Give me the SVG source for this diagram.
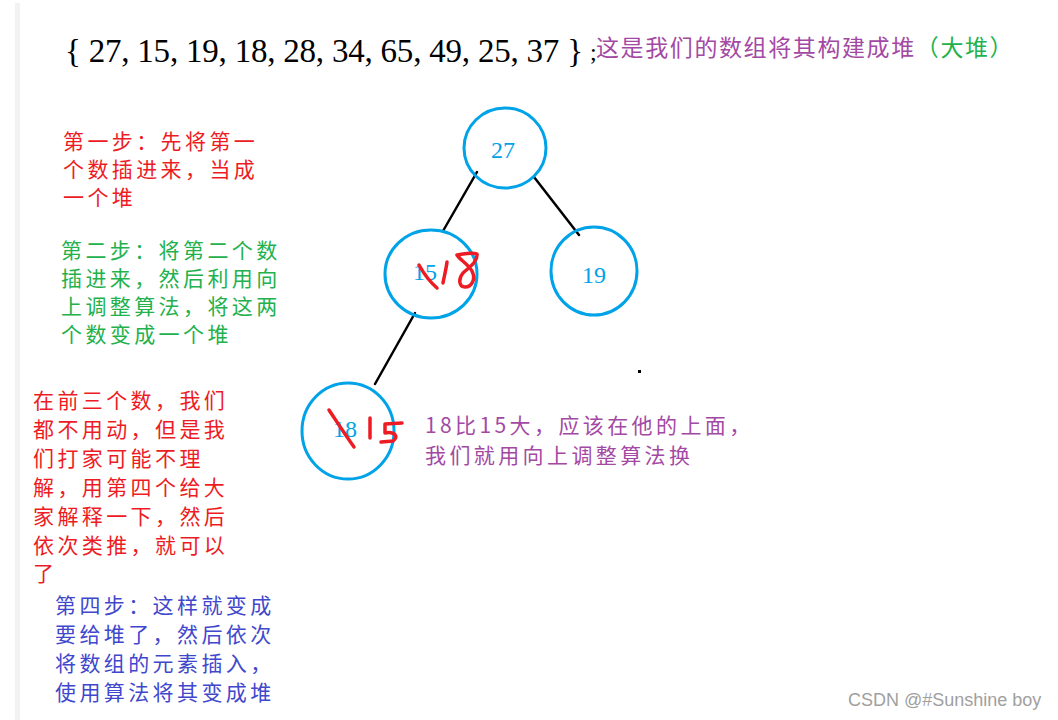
<svg xmlns="http://www.w3.org/2000/svg" width="1058" height="720" viewBox="0 0 1058 720">
<style>
.cn{font-family:"Noto Sans CJK SC","Noto Sans",sans-serif;font-size:21px;letter-spacing:3.4px}
.red{fill:#ed1c24}
.green{fill:#22b14c}
.blue{fill:#3f48cc}
.purple{fill:#a349a4}
.node ellipse{fill:none;stroke:#00a2e8;stroke-width:3}
.node text{font-family:"Liberation Serif",serif;font-size:24px;fill:#00a2e8;text-anchor:middle}
.edge{stroke:#000;stroke-width:2.5;stroke-linecap:round}
.ink{fill:none;stroke:#ed1c24;stroke-width:3.5;stroke-linecap:round;stroke-linejoin:round}
</style>
<rect width="1058" height="720" fill="#ffffff"/>
<rect x="15" y="3" width="5" height="717" fill="#f2f2f2"/>
<text x="65" y="62" font-family="Liberation Serif,serif" font-size="33" fill="#000" textLength="518" lengthAdjust="spacing">{ 27, 15, 19, 18, 28, 34, 65, 49, 25, 37 }</text>
<text x="590" y="60" font-family="Liberation Serif,serif" font-size="24" fill="#000">;</text>
<text x="596" y="56" class="cn purple" style="font-size:23px;letter-spacing:1.6px">这是我们的数组将其构建成堆<tspan class="green">（大堆）</tspan></text>

<g id="connectors">
<line class="edge" x1="477" y1="172" x2="443" y2="231"/>
<line class="edge" x1="534" y1="177" x2="579" y2="235"/>
<line class="edge" x1="415" y1="313" x2="375" y2="384"/>
</g>

<g id="node-27" class="node"><ellipse cx="505" cy="148" rx="41" ry="40"/><text x="503" y="158">27</text></g>
<g id="node-15" class="node"><ellipse cx="431" cy="274" rx="46" ry="44"/><text x="425" y="280">15</text></g>
<g id="node-19" class="node"><ellipse cx="594" cy="271" rx="43" ry="44"/><text x="594" y="283">19</text></g>
<g id="node-18" class="node"><ellipse cx="348" cy="431" rx="46" ry="48"/><text x="345" y="437">18</text></g>

<g id="handwriting">
<path class="ink" d="M419 265 C424 274 430 282 437 288"/>
<path class="ink" d="M447 262 C446 270 444 277 443 283"/>
<path class="ink" d="M457 255 C464 254 472 252 477 254 C478 262 468 268 463 273 C458 279 459 287 465 287 C472 287 476 279 472 271 C468 264 460 260 457 255 Z"/>
<path class="ink" d="M329 410 C337 422 346 436 354 447"/>
<path class="ink" d="M370 418 L370 438"/>
<path class="ink" d="M402 423 L385 424 L385 433 C395 431 399 437 393 441 L381 442"/>
<rect x="638" y="370" width="3" height="3" fill="#000"/>
</g>

<text class="cn red" x="63" y="149">第一步：先将第一</text>
<text class="cn red" x="63" y="177">个数插进来，当成</text>
<text class="cn red" x="63" y="205">一个堆</text>

<text class="cn green" x="61" y="258">第二步：将第二个数</text>
<text class="cn green" x="61" y="286">插进来，然后利用向</text>
<text class="cn green" x="61" y="314">上调整算法，将这两</text>
<text class="cn green" x="61" y="342">个数变成一个堆</text>

<text class="cn red" x="33" y="408">在前三个数，我们</text>
<text class="cn red" x="33" y="437">都不用动，但是我</text>
<text class="cn red" x="33" y="466">们打家可能不理</text>
<text class="cn red" x="33" y="495">解，用第四个给大</text>
<text class="cn red" x="33" y="524">家解释一下，然后</text>
<text class="cn red" x="33" y="553">依次类推，就可以</text>
<text class="cn red" x="33" y="581">了</text>

<text class="cn blue" x="55" y="613">第四步：这样就变成</text>
<text class="cn blue" x="55" y="642">要给堆了，然后依次</text>
<text class="cn blue" x="55" y="671">将数组的元素插入，</text>
<text class="cn blue" x="55" y="700">使用算法将其变成堆</text>

<text class="cn purple" x="425" y="433">18比15大，应该在他的上面，</text>
<text class="cn purple" x="425" y="463">我们就用向上调整算法换</text>

<text x="848" y="706" font-family="Liberation Sans,Arial,sans-serif" font-size="18" fill="#a0a0a0">CSDN @#Sunshine boy</text>
</svg>
